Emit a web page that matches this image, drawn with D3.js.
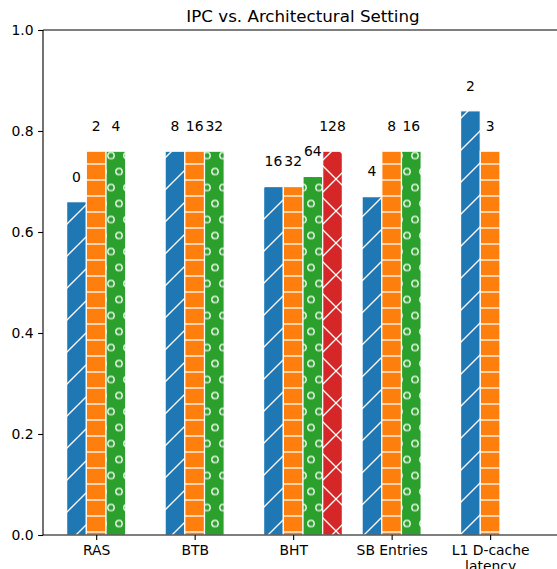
<!DOCTYPE html>
<html>
<head>
<meta charset="utf-8">
<script src="https://cdn.jsdelivr.net/npm/d3@7/dist/d3.min.js"></script>
<style>
  html, body { margin: 0; padding: 0; background: #fff; }
  svg { display: block; font-family: "DejaVu Sans", sans-serif; }
</style>
</head>
<body>
<svg id="chart" width="557" height="569"></svg>
<script>
// Architectural parameters and the IPC measured for each setting
const categories = ["RAS", "BTB", "BHT", "SB Entries", "L1 D-cache\nlatency"];
const settingLabels = [
  ["0", "2", "4"],
  ["8", "16", "32"],
  ["16", "32", "64", "128"],
  ["4", "8", "16"],
  ["2", "3"]
];
const ipcValues = [
  [0.66, 0.76, 0.76],
  [0.76, 0.76, 0.76],
  [0.69, 0.69, 0.71, 0.76],
  [0.67, 0.76, 0.76],
  [0.84, 0.76]
];
const yTicks = [0, 0.2, 0.4, 0.6, 0.8, 1.0];
const titleText = "IPC vs. Architectural Setting";

// Bar slot styling: one colour and hatch per position within a group
const barColors = ["#1f77b4", "#ff7f0e", "#2ca02c", "#d62728"];
const barHatches = ["hatch-slash", "hatch-dash", "hatch-ring", "hatch-cross"];

const svg = d3.select("#chart");
const plot = { left: 43, right: 563, top: 30, bottom: 535 };
const barWidth = 0.2;

const x = d3.scaleLinear().domain([-0.54, 4.74]).range([plot.left, plot.right]);
const y = d3.scaleLinear().domain([0, 1]).range([plot.bottom, plot.top]);

// Hatch patterns (white strokes over the bar colour)
const defs = svg.append("defs");
const hatchStroke = 1.3;

const slash = defs.append("pattern").attr("id", "hatch-slash")
  .attr("patternUnits", "userSpaceOnUse").attr("width", 32).attr("height", 32)
  .attr("patternTransform", "translate(0,3)");
[[-2, 2, 2, -2], [0, 32, 32, 0], [30, 34, 34, 30]].forEach(([a, b, c, d]) =>
  slash.append("line").attr("x1", a).attr("y1", b).attr("x2", c).attr("y2", d)
    .attr("stroke", "#fff").attr("stroke-width", hatchStroke));

const dash = defs.append("pattern").attr("id", "hatch-dash")
  .attr("patternUnits", "userSpaceOnUse").attr("width", 16).attr("height", 16)
  .attr("patternTransform", "translate(0,-4)");
dash.append("line").attr("x1", 0).attr("y1", 8).attr("x2", 16).attr("y2", 8)
  .attr("stroke", "#fff").attr("stroke-width", hatchStroke);

const ring = defs.append("pattern").attr("id", "hatch-ring")
  .attr("patternUnits", "userSpaceOnUse").attr("width", 16).attr("height", 32)
  .attr("patternTransform", "translate(-1,3.5)");
[[8, 8], [0, 24], [16, 24], [8, 40], [8, -24], [0, -8], [16, -8]].forEach(([cx, cy]) =>
  ring.append("circle").attr("cx", cx).attr("cy", cy).attr("r", 3.2)
    .attr("fill", "none").attr("stroke", "#fff").attr("stroke-width", hatchStroke));

const cross = defs.append("pattern").attr("id", "hatch-cross")
  .attr("patternUnits", "userSpaceOnUse").attr("width", 32).attr("height", 32)
  .attr("patternTransform", "translate(0,3)");
[[-2, 2, 2, -2], [0, 32, 32, 0], [30, 34, 34, 30],
 [-2, 30, 2, 34], [0, 0, 32, 32], [30, -2, 34, 2]].forEach(([a, b, c, d]) =>
  cross.append("line").attr("x1", a).attr("y1", b).attr("x2", c).attr("y2", d)
    .attr("stroke", "#fff").attr("stroke-width", hatchStroke));

// Flatten groups into individual bars
const bars = [];
ipcValues.forEach((vals, ci) => {
  vals.forEach((v, j) => {
    bars.push({ cat: ci, slot: j, value: v, label: settingLabels[ci][j] });
  });
});
const barX = d => x(d.cat + (d.slot - 1) * barWidth - barWidth / 2);
const barW = x(barWidth) - x(0);

const barG = svg.append("g");
const bar = barG.selectAll("g.bar").data(bars).join("g").attr("class", "bar");
bar.append("rect")
  .attr("x", barX).attr("y", d => y(d.value))
  .attr("width", barW).attr("height", d => y(0) - y(d.value))
  .attr("fill", d => barColors[d.slot]);
bar.append("rect")
  .attr("x", barX).attr("y", d => y(d.value))
  .attr("width", barW).attr("height", d => y(0) - y(d.value))
  .attr("fill", d => `url(#${barHatches[d.slot]})`);
bar.append("rect")
  .attr("x", barX).attr("y", d => y(d.value))
  .attr("width", barW).attr("height", d => y(0) - y(d.value))
  .attr("fill", "none").attr("stroke", "#fff").attr("stroke-width", 1.2);

// Setting labels above each bar
svg.append("g").selectAll("text").data(bars).join("text")
  .attr("x", d => x(d.cat + (d.slot - 1) * barWidth))
  .attr("y", d => y(d.value + 0.04))
  .attr("text-anchor", "middle")
  .attr("font-size", 13.9)
  .attr("fill", "#000")
  .text(d => d.label);

// Axes
const yAxis = svg.append("g").attr("transform", `translate(${plot.left},0)`)
  .call(d3.axisLeft(y).tickValues(yTicks).tickFormat(d3.format(".1f"))
    .tickSize(4.9).tickPadding(4.5));
const xAxis = svg.append("g").attr("transform", `translate(0,${plot.bottom})`)
  .call(d3.axisBottom(x).tickValues(d3.range(categories.length))
    .tickFormat(i => categories[i]).tickSize(4.9).tickPadding(4.9));
[yAxis, xAxis].forEach(g => {
  g.select(".domain").remove();
  g.selectAll(".tick line").attr("stroke", "#000").attr("stroke-width", 1.1);
  g.selectAll(".tick text").attr("font-size", 13.9).attr("fill", "#000")
    .attr("font-family", "DejaVu Sans, sans-serif");
});
xAxis.selectAll(".tick text").each(function (i) {
  const t = d3.select(this);
  const lines = categories[i].split("\n");
  t.text(null);
  lines.forEach((ln, k) => {
    t.append("tspan").attr("x", 0).attr("dy", k === 0 ? "0.71em" : "1.2em").text(ln);
  });
}).attr("dy", null);

// Spines
const spine = svg.append("g").attr("stroke", "#000").attr("stroke-width", 1.1);
spine.append("line").attr("x1", plot.left).attr("x2", plot.left).attr("y1", plot.top).attr("y2", plot.bottom);
spine.append("line").attr("x1", plot.left).attr("x2", plot.right).attr("y1", plot.top).attr("y2", plot.top);
spine.append("line").attr("x1", plot.left).attr("x2", plot.right).attr("y1", plot.bottom).attr("y2", plot.bottom);
spine.append("line").attr("x1", plot.right).attr("x2", plot.right).attr("y1", plot.top).attr("y2", plot.bottom);

// Title
svg.append("text")
  .attr("x", (plot.left + plot.right) / 2).attr("y", 21.7)
  .attr("text-anchor", "middle").attr("font-size", 16.7).attr("fill", "#000")
  .text(titleText);
</script>
</body>
</html>
